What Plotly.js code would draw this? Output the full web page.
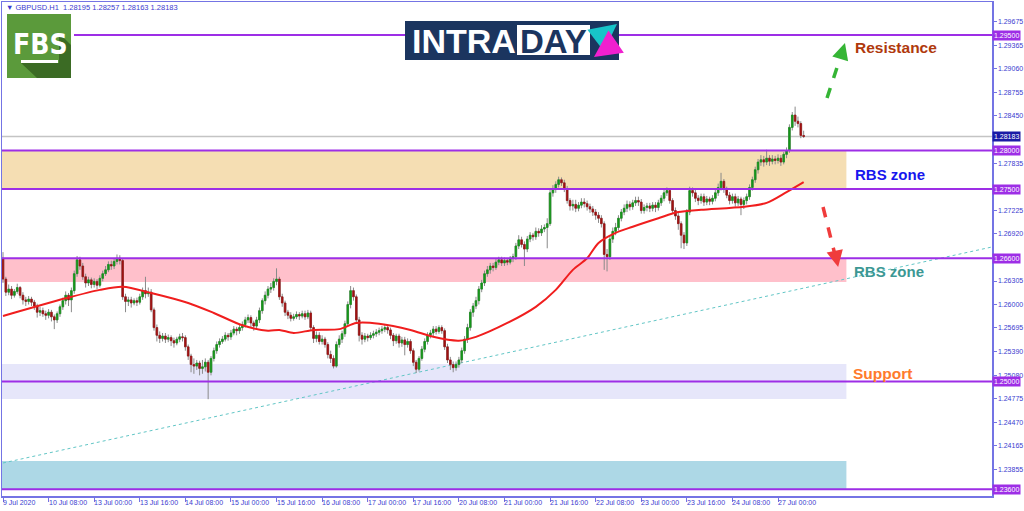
<!DOCTYPE html>
<html><head><meta charset="utf-8">
<script src="https://cdn.plot.ly/plotly-3.0.1.min.js"></script>
<style>html,body{margin:0;padding:0;background:#fff}#chart{width:1024px;height:511px}</style>
</head><body><div id="chart"></div>
<script>
// ---------- DATA ----------
const openP = [
1.2660,1.2633,1.2616,1.2620,1.2612,1.2617,1.2622,1.2612,1.2606,1.2604,
1.2607,1.2603,1.2598,1.2590,1.2592,1.2588,1.2586,1.2590,1.2584,1.2580,
1.2588,1.2597,1.2605,1.2612,1.2606,1.2618,1.2640,1.2658,1.2650,1.2636,
1.2628,1.2632,1.2626,1.2630,1.2625,1.2634,1.2640,1.2645,1.2652,1.2650,
1.2656,1.2660,1.2657,1.2610,1.2604,1.2606,1.2602,1.2605,1.2603,1.2610,
1.2618,1.2614,1.2616,1.2593,1.2570,1.2560,1.2556,1.2559,1.2555,1.2557,
1.2553,1.2550,1.2555,1.2558,1.2557,1.2545,1.2533,1.2522,1.2520,1.2524,
1.2517,1.2519,1.2525,1.2512,1.2530,1.2540,1.2548,1.2552,1.2555,1.2560,
1.2558,1.2563,1.2568,1.2566,1.2570,1.2574,1.2580,1.2583,1.2576,1.2572,
1.2580,1.2592,1.2605,1.2612,1.2620,1.2622,1.2630,1.2633,1.2610,1.2602,
1.2590,1.2586,1.2582,1.2584,1.2587,1.2585,1.2588,1.2584,1.2589,1.2570,
1.2556,1.2560,1.2552,1.2555,1.2548,1.2535,1.2530,1.2520,1.2548,1.2555,
1.2562,1.2575,1.2600,1.2618,1.2610,1.2580,1.2560,1.2555,1.2559,1.2557,
1.2560,1.2562,1.2564,1.2566,1.2568,1.2570,1.2567,1.2560,1.2553,1.2559,
1.2550,1.2554,1.2548,1.2552,1.2540,1.2525,1.2516,1.2530,1.2542,1.2552,
1.2560,1.2563,1.2568,1.2565,1.2570,1.2566,1.2545,1.2528,1.2522,1.2518,
1.2522,1.2528,1.2540,1.2555,1.2570,1.2590,1.2598,1.2605,1.2620,1.2628,
1.2640,1.2645,1.2650,1.2648,1.2655,1.2658,1.2654,1.2657,1.2655,1.2660,
1.2662,1.2676,1.2684,1.2678,1.2672,1.2685,1.2690,1.2688,1.2695,1.2693,
1.2698,1.2700,1.2705,1.2745,1.2750,1.2756,1.2762,1.2758,1.2750,1.2735,
1.2728,1.2730,1.2725,1.2729,1.2733,1.2731,1.2727,1.2724,1.2720,1.2716,
1.2712,1.2705,1.2665,1.2662,1.2685,1.2695,1.2700,1.2712,1.2720,1.2725,
1.2730,1.2727,1.2732,1.2735,1.2733,1.2722,1.2726,1.2728,1.2725,1.2729,
1.2726,1.2732,1.2738,1.2745,1.2748,1.2735,1.2722,1.2715,1.2705,1.2690,
1.2680,1.2720,1.2748,1.2745,1.2738,1.2735,1.2740,1.2733,1.2737,1.2734,
1.2738,1.2745,1.2752,1.2760,1.2750,1.2742,1.2735,1.2740,1.2732,1.2737,
1.2730,1.2735,1.2740,1.2752,1.2762,1.2775,1.2785,1.2788,1.2785,1.2790,
1.2786,1.2789,1.2787,1.2790,1.2785,1.2795,1.2800,1.2830,1.2846,1.2838,1.2835,1.28195];
const highP = [
1.2668,1.2636,1.2626,1.2624,1.2620,1.2627,1.2624,1.2616,1.2610,1.2611,
1.2610,1.2606,1.2601,1.2597,1.2596,1.2592,1.2594,1.2593,1.2587,1.2591,
1.2600,1.2609,1.2617,1.2615,1.2622,1.2644,1.2663,1.2662,1.2654,1.2640,
1.2636,1.2635,1.2634,1.2633,1.2638,1.2644,1.2650,1.2656,1.2657,1.2660,
1.2665,1.2664,1.2660,1.2614,1.2610,1.2610,1.2608,1.2609,1.2614,1.2622,
1.2636,1.2622,1.2620,1.2596,1.2574,1.2565,1.2563,1.2563,1.2561,1.2560,
1.2557,1.2558,1.2562,1.2563,1.2560,1.2548,1.2536,1.2530,1.2528,1.2527,
1.2528,1.2530,1.2528,1.2533,1.2544,1.2552,1.2556,1.2559,1.2564,1.2563,
1.2567,1.2572,1.2571,1.2574,1.2578,1.2584,1.2587,1.2586,1.2579,1.2584,
1.2596,1.2608,1.2617,1.2624,1.2628,1.2634,1.2647,1.2636,1.2614,1.2605,
1.2593,1.2590,1.2588,1.2591,1.2590,1.2592,1.2592,1.2593,1.2592,1.2573,
1.2565,1.2564,1.2560,1.2558,1.2551,1.2540,1.2534,1.2552,1.2560,1.2566,
1.2579,1.2604,1.2624,1.2622,1.2613,1.2584,1.2564,1.2563,1.2562,1.2564,
1.2566,1.2568,1.2570,1.2572,1.2574,1.2574,1.2570,1.2563,1.2562,1.2562,
1.2558,1.2558,1.2556,1.2555,1.2543,1.2528,1.2533,1.2546,1.2556,1.2564,
1.2567,1.2572,1.2572,1.2573,1.2573,1.2569,1.2549,1.2532,1.2526,1.2526,
1.2532,1.2544,1.2559,1.2575,1.2594,1.2602,1.2610,1.2624,1.2632,1.2644,
1.2650,1.2654,1.2654,1.2659,1.2662,1.2662,1.2661,1.2660,1.2663,1.2666,
1.2680,1.2690,1.2688,1.2682,1.2689,1.2694,1.2693,1.2700,1.2699,1.2703,
1.2704,1.2712,1.2749,1.2755,1.2760,1.2766,1.2765,1.2762,1.2754,1.2738,
1.2736,1.2736,1.2733,1.2738,1.2738,1.2735,1.2731,1.2728,1.2724,1.2720,
1.2716,1.2708,1.2672,1.2690,1.2700,1.2706,1.2716,1.2724,1.2730,1.2735,
1.2734,1.2736,1.2740,1.2740,1.2737,1.2730,1.2732,1.2732,1.2733,1.2733,
1.2736,1.2742,1.2749,1.2752,1.2751,1.2738,1.2726,1.2719,1.2708,1.2694,
1.2724,1.2753,1.2752,1.2749,1.2742,1.2744,1.2744,1.2741,1.2740,1.2742,
1.2749,1.2757,1.2771,1.2763,1.2753,1.2746,1.2744,1.2744,1.2741,1.2740,
1.2739,1.2744,1.2756,1.2766,1.2779,1.2789,1.2794,1.2793,1.2801,1.2794,
1.2794,1.2793,1.2795,1.2794,1.2798,1.2804,1.2834,1.2850,1.2857,1.2844,1.2838,1.28257];
const lowP = [
1.2628,1.2611,1.2612,1.2607,1.2609,1.2614,1.2608,1.2600,1.2598,1.2600,
1.2598,1.2593,1.2583,1.2585,1.2584,1.2580,1.2582,1.2578,1.2568,1.2576,
1.2584,1.2593,1.2600,1.2598,1.2590,1.2614,1.2636,1.2645,1.2632,1.2622,
1.2624,1.2621,1.2622,1.2620,1.2622,1.2630,1.2637,1.2642,1.2645,1.2646,
1.2652,1.2652,1.2606,1.2590,1.2598,1.2596,1.2599,1.2598,1.2600,1.2606,
1.2608,1.2610,1.2590,1.2566,1.2552,1.2550,1.2552,1.2550,1.2551,1.2546,
1.2544,1.2547,1.2551,1.2552,1.2540,1.2528,1.2512,1.2510,1.2515,1.2508,
1.2510,1.2513,1.2477,1.2508,1.2526,1.2536,1.2544,1.2549,1.2552,1.2553,
1.2554,1.2560,1.2560,1.2562,1.2566,1.2570,1.2576,1.2570,1.2566,1.2568,
1.2576,1.2588,1.2600,1.2608,1.2615,1.2618,1.2625,1.2606,1.2597,1.2585,
1.2581,1.2578,1.2579,1.2581,1.2580,1.2582,1.2580,1.2581,1.2566,1.2550,
1.2551,1.2548,1.2548,1.2544,1.2530,1.2524,1.2517,1.2518,1.2544,1.2550,
1.2558,1.2572,1.2595,1.2605,1.2576,1.2552,1.2548,1.2551,1.2552,1.2554,
1.2556,1.2558,1.2560,1.2562,1.2564,1.2562,1.2555,1.2546,1.2549,1.2544,
1.2545,1.2534,1.2544,1.2536,1.2520,1.2511,1.2513,1.2527,1.2538,1.2548,
1.2556,1.2559,1.2561,1.2562,1.2562,1.2541,1.2524,1.2515,1.2512,1.2514,
1.2518,1.2524,1.2536,1.2550,1.2566,1.2584,1.2594,1.2600,1.2616,1.2624,
1.2636,1.2640,1.2643,1.2645,1.2651,1.2650,1.2650,1.2651,1.2652,1.2655,
1.2658,1.2672,1.2674,1.2650,1.2668,1.2681,1.2683,1.2684,1.2688,1.2689,
1.2694,1.2673,1.2702,1.2740,1.2745,1.2752,1.2754,1.2746,1.2731,1.2722,
1.2722,1.2720,1.2721,1.2725,1.2726,1.2722,1.2719,1.2715,1.2710,1.2706,
1.2700,1.2645,1.2643,1.2658,1.2680,1.2690,1.2696,1.2708,1.2716,1.2720,
1.2722,1.2723,1.2728,1.2728,1.2718,1.2718,1.2721,1.2720,1.2721,1.2720,
1.2722,1.2728,1.2734,1.2741,1.2731,1.2718,1.2710,1.2697,1.2673,1.2672,
1.2676,1.2716,1.2740,1.2733,1.2729,1.2731,1.2728,1.2729,1.2729,1.2730,
1.2734,1.2741,1.2748,1.2745,1.2738,1.2730,1.2731,1.2727,1.2728,1.2716,
1.2724,1.2730,1.2736,1.2748,1.2758,1.2770,1.2780,1.2779,1.2781,1.2780,
1.2782,1.2782,1.2783,1.2780,1.2782,1.2790,1.2797,1.2826,1.2832,1.2830,1.2816,1.28163];
const closeP = [
1.2633,1.2616,1.2620,1.2612,1.2617,1.2622,1.2612,1.2606,1.2604,1.2607,
1.2603,1.2598,1.2590,1.2592,1.2588,1.2586,1.2590,1.2584,1.2580,1.2588,
1.2597,1.2605,1.2612,1.2606,1.2618,1.2640,1.2658,1.2650,1.2636,1.2628,
1.2632,1.2626,1.2630,1.2625,1.2634,1.2640,1.2645,1.2652,1.2650,1.2656,
1.2660,1.2657,1.2610,1.2604,1.2606,1.2602,1.2605,1.2603,1.2610,1.2618,
1.2614,1.2616,1.2593,1.2570,1.2560,1.2556,1.2559,1.2555,1.2557,1.2553,
1.2550,1.2555,1.2558,1.2557,1.2545,1.2533,1.2522,1.2520,1.2524,1.2517,
1.2519,1.2525,1.2512,1.2530,1.2540,1.2548,1.2552,1.2555,1.2560,1.2558,
1.2563,1.2568,1.2566,1.2570,1.2574,1.2580,1.2583,1.2576,1.2572,1.2580,
1.2592,1.2605,1.2612,1.2620,1.2622,1.2630,1.2633,1.2610,1.2602,1.2590,
1.2586,1.2582,1.2584,1.2587,1.2585,1.2588,1.2584,1.2589,1.2570,1.2556,
1.2560,1.2552,1.2555,1.2548,1.2535,1.2530,1.2520,1.2548,1.2555,1.2562,
1.2575,1.2600,1.2618,1.2610,1.2580,1.2560,1.2555,1.2559,1.2557,1.2560,
1.2562,1.2564,1.2566,1.2568,1.2570,1.2567,1.2560,1.2553,1.2559,1.2550,
1.2554,1.2548,1.2552,1.2540,1.2525,1.2516,1.2530,1.2542,1.2552,1.2560,
1.2563,1.2568,1.2565,1.2570,1.2566,1.2545,1.2528,1.2522,1.2518,1.2522,
1.2528,1.2540,1.2555,1.2570,1.2590,1.2598,1.2605,1.2620,1.2628,1.2640,
1.2645,1.2650,1.2648,1.2655,1.2658,1.2654,1.2657,1.2655,1.2660,1.2662,
1.2676,1.2684,1.2678,1.2672,1.2685,1.2690,1.2688,1.2695,1.2693,1.2698,
1.2700,1.2705,1.2745,1.2750,1.2756,1.2762,1.2758,1.2750,1.2735,1.2728,
1.2730,1.2725,1.2729,1.2733,1.2731,1.2727,1.2724,1.2720,1.2716,1.2712,
1.2705,1.2665,1.2662,1.2685,1.2695,1.2700,1.2712,1.2720,1.2725,1.2730,
1.2727,1.2732,1.2735,1.2733,1.2722,1.2726,1.2728,1.2725,1.2729,1.2726,
1.2732,1.2738,1.2745,1.2748,1.2735,1.2722,1.2715,1.2705,1.2690,1.2680,
1.2720,1.2748,1.2745,1.2738,1.2735,1.2740,1.2733,1.2737,1.2734,1.2738,
1.2745,1.2752,1.2760,1.2750,1.2742,1.2735,1.2740,1.2732,1.2737,1.2730,
1.2735,1.2740,1.2752,1.2762,1.2775,1.2785,1.2788,1.2785,1.2790,1.2786,
1.2789,1.2787,1.2790,1.2785,1.2795,1.2800,1.2830,1.2846,1.2838,1.2835,1.28195,1.28183];

// moving average (read at sample bars)
const maBars   = [0,22,34,42,52,65,74,84,93,97,102,109,118,124,132,143,151,160,166,177,187,194,200,205,209,215,221,230,237,245,260,268,275,281];
const maValues = [1.2585,1.2608,1.2619,1.2623,1.2615,1.2602,1.2589,1.2573,1.2566,1.2567,1.2563,1.2567,1.2568,1.2576,1.2575,1.2567,1.2558,1.2553,1.2558,1.2576,1.2597,1.2619,1.2645,1.2660,1.2680,1.2693,1.2701,1.2712,1.2720,1.2723,1.2727,1.2732,1.2746,1.2759];

const timeTickBars = [0,16,32,48,64,80,96,112,128,144,160,176,192,208,224,240,256,272];
const timeLabels = ["9 Jul 2020","10 Jul 08:00","13 Jul 00:00","13 Jul 16:00","14 Jul 08:00","15 Jul 00:00","15 Jul 16:00","16 Jul 08:00","17 Jul 00:00","17 Jul 16:00","20 Jul 08:00","21 Jul 00:00","21 Jul 16:00","22 Jul 08:00","23 Jul 00:00","23 Jul 16:00","24 Jul 08:00","27 Jul 00:00"];

// ticks; labels hidden behind the level tags are left blank
const priceTicks = [1.29675,1.29365,1.29060,1.28755,1.28450,1.28145,1.27835,1.27530,1.27225,1.26920,1.26615,1.26305,1.26000,1.25695,1.25390,1.25080,1.24775,1.24470,1.24165,1.23855,1.23550];
const priceTickLabels = ["1.29675","1.29365","1.29060","1.28755","1.28450","","1.27835","","1.27225","1.26920","","1.26305","1.26000","1.25695","1.25390","1.25080","1.24775","1.24470","1.24165","1.23855",""];

const levels = [1.29500,1.28000,1.27500,1.26600,1.25000,1.23600];
const levelLabels = ["1.29500","1.28000","1.27500","1.26600","1.25000","1.23600"];
const lastPrice = 1.28183;

const zoneTop    = [1.28000,1.26600,1.25227,1.23968];
const zoneBottom = [1.27500,1.26292,1.24773,1.23600];
const zoneColors = ["#f5deb3","#ffc0cb","#e6e6fa","#add8e6"];
const zoneEndBar = 296;

const trendBars   = [0,347.1];
const trendPrices = [1.23942,1.26747];

const headerText = "▼ GBPUSD.H1  1.28195 1.28257 1.28163 1.28183";

// ---------- BUILD ----------
const bars = openP.map((_, i) => i);
const bodyHigh = openP.map((o, i) => Math.max(o, closeP[i]));
const bodyLow  = openP.map((o, i) => Math.min(o, closeP[i]));
const FONT = "Liberation Sans, Arial, sans-serif";
const AX = "#7474e4";
const TXT = "#3b3bcf";
const PURPLE = "#9d2ee6";
const PX = x => (x - 2) / 990;
const PY = y => (496 - y) / 494;

const traces = [
  {type:"candlestick", x:bars, open:openP, high:highP, low:lowP, close:closeP,
   increasing:{line:{color:"#8a8a8a", width:1}, fillcolor:"#8a8a8a"},
   decreasing:{line:{color:"#8a8a8a", width:1}, fillcolor:"#8a8a8a"},
   whiskerwidth:0, hoverinfo:"skip", showlegend:false},
  {type:"candlestick", x:bars, open:openP, high:bodyHigh, low:bodyLow, close:closeP,
   increasing:{line:{color:"#16961a", width:0.6}, fillcolor:"#16961a"},
   decreasing:{line:{color:"#a01212", width:0.6}, fillcolor:"#a01212"},
   whiskerwidth:0, hoverinfo:"skip", showlegend:false},
  {type:"scatter", mode:"lines", x:maBars, y:maValues,
   line:{color:"#f01e1e", width:2, shape:"spline", smoothing:0.8},
   hoverinfo:"skip", showlegend:false}
];

const shapes = [];
zoneTop.forEach((t, i) => shapes.push({type:"rect", xref:"x", x0:-0.35, x1:zoneEndBar, yref:"y", y0:zoneBottom[i], y1:t,
  fillcolor:zoneColors[i], line:{width:0}, layer:"below"}));

shapes.push({type:"line", xref:"x", yref:"y", x0:trendBars[0], x1:trendBars[1], y0:trendPrices[0], y1:trendPrices[1],
  line:{color:"#62c6c6", width:1, dash:"dot"}, layer:"below"});
shapes.push({type:"line", xref:"paper", yref:"y", x0:0, x1:1, y0:lastPrice, y1:lastPrice,
  line:{color:"#c4c4c4", width:1.5}, layer:"below"});
levels.forEach((lv, i) => shapes.push({type:"line", xref:"paper", yref:"y", x0: i === 0 ? PX(74) : 0, x1:1, y0:lv, y1:lv,
  line:{color:PURPLE, width:2}, layer:"above"}));

// arrows (dashed shafts)
shapes.push({type:"line", xref:"x", yref:"y", x0:289.2, y0:1.28682, x1:294.6, y1:1.29290,
  line:{color:"#35b535", width:3.5, dash:"dash"}});
shapes.push({type:"line", xref:"x", yref:"y", x0:287.8, y0:1.27266, x1:292.5, y1:1.26570,
  line:{color:"#f03c3c", width:3.5, dash:"dash"}});

// FBS logo
shapes.push({type:"rect", xref:"paper", yref:"paper", x0:PX(7), x1:PX(71), y0:PY(78), y1:PY(14), fillcolor:"#5b9a3b", line:{width:0}});
shapes.push({type:"path", xref:"paper", yref:"paper",
  path:`M${PX(59)},${PY(33)} L${PX(71)},${PY(45)} L${PX(71)},${PY(78)} L${PX(37)},${PY(78)} L${PX(21)},${PY(63)} L${PX(59)},${PY(63)} Z`,
  fillcolor:"#3b6b24", line:{width:0}});
shapes.push({type:"rect", xref:"paper", yref:"paper", x0:PX(21), x1:PX(58), y0:PY(63), y1:PY(60), fillcolor:"#ffffff", line:{width:0}});
// INTRADAY logo
shapes.push({type:"rect", xref:"paper", yref:"paper", x0:PX(405), x1:PX(619), y0:PY(60), y1:PY(21), fillcolor:"#1b355f", line:{width:0}});
shapes.push({type:"rect", xref:"paper", yref:"paper", x0:PX(517), x1:PX(590), y0:PY(55), y1:PY(25), fillcolor:"#ffffff", line:{width:0}});

const annotations = [];
// header
annotations.push({xref:"paper", yref:"paper", x:PX(4), y:PY(7), xanchor:"left", yanchor:"middle", showarrow:false,
  text:headerText, font:{family:FONT, size:7.5, color:TXT}});
// time labels (left aligned at the tick)
timeTickBars.forEach((b, i) => annotations.push({xref:"x", yref:"paper", x:b, y:0, xanchor:"left", yanchor:"top",
  xshift:-2, yshift:-1, showarrow:false, text:timeLabels[i], font:{family:FONT, size:7, color:TXT}}));
// level tags
levels.forEach((lv, i) => annotations.push({xref:"paper", yref:"y", x:1, y:lv, xanchor:"left", yanchor:"middle",
  xshift:0, showarrow:false, text:levelLabels[i], bgcolor:PURPLE, borderpad:1,
  font:{family:FONT, size:7, color:"#ffffff"}}));
annotations.push({xref:"paper", yref:"y", x:1, y:lastPrice, xanchor:"left", yanchor:"middle",
  showarrow:false, text:"1.28183", bgcolor:"#1a1aa6", borderpad:1, font:{family:FONT, size:7, color:"#ffffff"}});
// labels
annotations.push({xref:"x", yref:"y", x:298.2, y:1.29344, xanchor:"left", yanchor:"middle", showarrow:false,
  text:"<b>Resistance</b>", font:{family:FONT, size:15.5, color:"#b0390c"}});
annotations.push({xref:"x", yref:"y", x:298.2, y:1.27682, xanchor:"left", yanchor:"middle", showarrow:false,
  text:"<b>RBS zone</b>", font:{family:FONT, size:15, color:"#1717ee"}});
annotations.push({xref:"x", yref:"y", x:297.9, y:1.26435, xanchor:"left", yanchor:"middle", showarrow:false,
  text:"<b>RBS zone</b>", font:{family:FONT, size:15, color:"#3c9894"}});
annotations.push({xref:"x", yref:"y", x:297.5, y:1.25110, xanchor:"left", yanchor:"middle", showarrow:false,
  text:"<b>Support</b>", font:{family:FONT, size:15.5, color:"#ff7b2c"}});
// arrow heads
annotations.push({xref:"x", yref:"y", axref:"x", ayref:"y", x:295.5, y:1.29396, ax:293.9, ay:1.29200, text:"",
  showarrow:true, arrowhead:2, arrowsize:1.1, arrowwidth:3, arrowcolor:"#35b535"});
annotations.push({xref:"x", yref:"y", axref:"x", ayref:"y", x:293.1, y:1.26487, ax:292.0, ay:1.26680, text:"",
  showarrow:true, arrowhead:2, arrowsize:1.1, arrowwidth:3, arrowcolor:"#f03c3c"});
// FBS logo text
annotations.push({xref:"paper", yref:"paper", x:PX(40), y:PY(44), xanchor:"center", yanchor:"middle", showarrow:false,
  text:"<b>FBS</b>", font:{family:"Liberation Sans Narrow, DejaVu Sans Condensed, Liberation Sans, sans-serif", size:28, color:"#ffffff"}});
// INTRADAY text
annotations.push({xref:"paper", yref:"paper", x:PX(410), y:PY(41), xanchor:"left", yanchor:"middle", showarrow:false,
  text:"<b>INTRA</b>", font:{family:FONT, size:34, color:"#ffffff"}});
annotations.push({xref:"paper", yref:"paper", x:PX(553.5), y:PY(41), xanchor:"center", yanchor:"middle", showarrow:false,
  text:"<b>DAY</b>", font:{family:FONT, size:33, color:"#1b355f"}});
// INTRADAY arrows
annotations.push({xref:"paper", yref:"paper", x:PX(617), y:PY(24), ax:-22, ay:17, text:"", showarrow:true,
  arrowhead:2, arrowsize:0.9, arrowwidth:6, arrowcolor:"#17c4c9"});
annotations.push({xref:"paper", yref:"paper", x:PX(594), y:PY(57), ax:23, ay:-16, text:"", showarrow:true,
  arrowhead:2, arrowsize:0.9, arrowwidth:6, arrowcolor:"#f020cf"});

const layout = {
  width:1024, height:511,
  margin:{l:2, r:32, t:2, b:15, pad:0},
  paper_bgcolor:"#ffffff", plot_bgcolor:"#ffffff",
  showlegend:false, dragmode:false, hovermode:false,
  boxgap:0.2,
  xaxis:{range:[-0.35, 347.1], showgrid:false, zeroline:false, showline:true, mirror:true,
    linecolor:AX, linewidth:1.5, ticks:"outside", ticklen:4, tickwidth:1, tickcolor:AX,
    tickmode:"array", tickvals:timeTickBars, showticklabels:false, rangeslider:{visible:false}, fixedrange:true},
  yaxis:{side:"right", range:[1.23513, 1.299286], showgrid:false, zeroline:false, showline:true, mirror:true,
    linecolor:AX, linewidth:1.5, ticks:"outside", ticklen:3, tickwidth:1, tickcolor:AX,
    tickmode:"array", tickvals:priceTicks, ticktext:priceTickLabels,
    tickfont:{family:FONT, size:7, color:TXT}, fixedrange:true},
  shapes:shapes, annotations:annotations
};

Plotly.newPlot("chart", traces, layout, {staticPlot:true, displayModeBar:false});
</script></body></html>
